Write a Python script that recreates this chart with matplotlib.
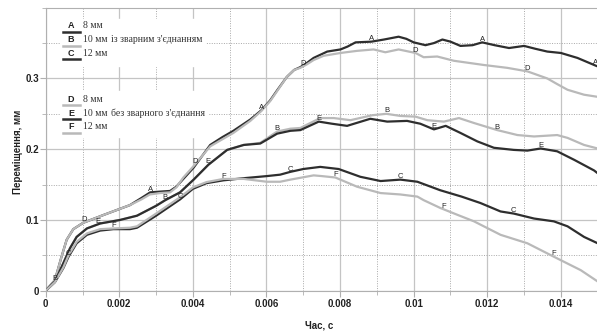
import numpy as np
import matplotlib.pyplot as plt
from matplotlib.lines import Line2D
from matplotlib.patches import Rectangle
from matplotlib.ticker import MultipleLocator

# час у мс, переміщення у мм
t_A = [0, 0.25, 0.43, 0.57, 0.75, 1.02, 1.57, 2.29, 2.6, 2.84, 3.1, 3.38, 3.55, 3.74, 4.02,
       4.47, 4.8, 5.1, 5.56, 5.86, 6.1, 6.3, 6.55, 6.75, 6.92, 7.1, 7.28, 7.65, 8.01, 8.2,
       8.42, 8.85, 9.19, 9.59, 9.8, 10.0, 10.32, 10.55, 10.78, 11.0, 11.27, 11.6, 11.86,
       12.2, 12.59, 13.0, 13.3, 13.63, 14.0, 14.45, 14.95, 15.0]
y_A = [0, 0.015, 0.048, 0.072, 0.087, 0.096, 0.107, 0.121, 0.131, 0.139, 0.140, 0.141,
       0.147, 0.158, 0.174, 0.206, 0.217, 0.226, 0.242, 0.255, 0.269, 0.284, 0.302, 0.312,
       0.316, 0.322, 0.329, 0.338, 0.341, 0.345, 0.351, 0.352, 0.355, 0.359, 0.356, 0.351,
       0.347, 0.350, 0.355, 0.352, 0.346, 0.347, 0.351, 0.347, 0.343, 0.346, 0.342, 0.338,
       0.336, 0.329, 0.318, 0.317]

t_D = [0, 0.25, 0.43, 0.57, 0.75, 1.02, 1.57, 2.29, 2.6, 2.83, 3.1, 3.38, 3.55, 3.74, 4.0,
       4.47, 4.8, 5.1, 5.56, 5.86, 6.1, 6.3, 6.55, 6.75, 6.92, 7.1, 7.28, 7.55, 8.01, 8.46,
       8.91, 9.23, 9.59, 10.05, 10.27, 10.64, 11.09, 11.5, 11.91, 12.54, 13.09, 13.63, 13.9,
       14.18, 14.63, 15.0]
y_D = [0, 0.015, 0.048, 0.072, 0.087, 0.096, 0.107, 0.121, 0.129, 0.136, 0.138, 0.139,
       0.146, 0.160, 0.175, 0.204, 0.214, 0.223, 0.240, 0.254, 0.268, 0.283, 0.302, 0.312,
       0.315, 0.320, 0.326, 0.332, 0.336, 0.339, 0.341, 0.337, 0.341, 0.336, 0.330, 0.331,
       0.325, 0.322, 0.319, 0.315, 0.310, 0.300, 0.292, 0.284, 0.277, 0.274]

t_B = [0, 0.25, 0.48, 0.66, 0.84, 1.12, 1.48, 2.02, 2.48, 3.0, 3.25, 3.65, 4.02, 4.42, 4.93,
       5.38, 5.83, 6.29, 6.65, 6.92, 7.19, 7.46, 7.83, 8.28, 8.87, 9.26, 9.64, 10.05, 10.37,
       10.82, 11.23, 11.64, 12.27, 12.82, 13.27, 13.9, 14.18, 14.63, 15.0]
y_B = [0, 0.013, 0.039, 0.060, 0.076, 0.088, 0.095, 0.100, 0.106, 0.120, 0.128, 0.139,
       0.157, 0.178, 0.199, 0.206, 0.209, 0.225, 0.229, 0.230, 0.237, 0.244, 0.244, 0.241,
       0.248, 0.250, 0.247, 0.246, 0.241, 0.239, 0.244, 0.237, 0.227, 0.220, 0.218, 0.220,
       0.216, 0.206, 0.201]

t_E = [0, 0.25, 0.48, 0.66, 0.84, 1.12, 1.48, 2.02, 2.48, 3.0, 3.25, 3.65, 4.02, 4.42, 4.93,
       5.38, 5.83, 6.29, 6.65, 6.92, 7.42, 7.78, 8.19, 8.82, 9.28, 9.82, 10.18, 10.55, 10.87,
       11.27, 11.73, 12.18, 12.72, 13.09, 13.45, 13.9, 14.36, 14.9, 15.0]
y_E = [0, 0.013, 0.039, 0.060, 0.076, 0.088, 0.095, 0.100, 0.106, 0.120, 0.128, 0.139,
       0.157, 0.178, 0.199, 0.206, 0.208, 0.222, 0.226, 0.227, 0.239, 0.236, 0.233, 0.243,
       0.239, 0.240, 0.236, 0.228, 0.233, 0.223, 0.211, 0.202, 0.199, 0.198, 0.201, 0.197,
       0.185, 0.170, 0.166]

t_C = [0, 0.25, 0.48, 0.62, 0.84, 1.12, 1.48, 1.84, 2.29, 2.48, 3.0, 3.65, 4.0, 4.37, 4.83,
       5.38, 6.01, 6.37, 6.65, 7.0, 7.46, 7.96, 8.55, 9.1, 9.64, 10.1, 10.72, 11.3, 11.81,
       12.36, 12.72, 13.27, 13.81, 14.18, 14.63, 15.0]
y_C = [0, 0.012, 0.032, 0.048, 0.067, 0.079, 0.085, 0.087, 0.087, 0.089, 0.106, 0.129,
       0.144, 0.152, 0.156, 0.159, 0.162, 0.164, 0.168, 0.172, 0.175, 0.172, 0.161, 0.155,
       0.157, 0.154, 0.142, 0.133, 0.124, 0.112, 0.109, 0.102, 0.098, 0.091, 0.076, 0.067]

t_F = [0, 0.25, 0.48, 0.62, 0.84, 1.12, 1.48, 1.84, 2.29, 2.48, 3.0, 3.65, 4.0, 4.37, 4.83,
       5.38, 6.01, 6.37, 6.65, 7.28, 7.5, 7.87, 8.46, 9.1, 9.64, 10.1, 10.27, 10.72, 11.2,
       11.64, 12.36, 13.09, 13.81, 14.54, 15.0]
y_F = [0, 0.012, 0.033, 0.050, 0.069, 0.081, 0.087, 0.088, 0.089, 0.091, 0.109, 0.132,
       0.146, 0.1535, 0.158, 0.158, 0.154, 0.154, 0.157, 0.163, 0.162, 0.160, 0.147, 0.138,
       0.136, 0.133, 0.128, 0.117, 0.107, 0.098, 0.079, 0.067, 0.048, 0.029, 0.013]

# місця літер на кривих, мс
marks = {
    'A': [2.84, 5.86, 8.85, 11.86, 14.95],
    'B': [0.25, 3.25, 6.29, 9.26, 12.27],
    'C': [0.62, 3.65, 6.65, 9.64, 12.72],
    'D': [1.05, 4.05, 7.0, 10.05, 13.09],
    'E': [1.43, 4.42, 7.42, 10.55, 13.45],
    'F': [1.84, 4.83, 7.87, 10.82, 13.81],
}

dark = '#2e2e2e'
light = '#b9b9b9'
series = [('A', t_A, y_A, dark), ('D', t_D, y_D, light),
          ('B', t_B, y_B, light), ('E', t_E, y_E, dark),
          ('C', t_C, y_C, dark), ('F', t_F, y_F, light)]

sans = ['Liberation Sans', 'DejaVu Sans']
serif = ['Liberation Serif', 'DejaVu Serif']

fig = plt.figure(figsize=(5.97, 3.36), dpi=100)
ax = fig.add_axes([45.7 / 597, 1 - 290.7 / 336, 552 / 597, 283 / 336])

for name, t, y, c in series:
    t = np.array(t) / 1000
    ax.plot(t, y, color=c, lw=1.6, zorder=3, solid_joinstyle='round',
            solid_capstyle='round')
    for m in marks[name]:
        ym = np.interp(m / 1000, t, y)
        ax.text(m / 1000, ym + 0.004, name, fontsize=5.5, color='#222222',
                ha='center', va='center', zorder=4, family=sans)

ax.set_xlim(0, 0.015)
ax.set_ylim(0, 0.4)
ax.xaxis.set_minor_locator(MultipleLocator(0.001))
ax.yaxis.set_minor_locator(MultipleLocator(0.05))
ax.set_xticks([0, 0.002, 0.004, 0.006, 0.008, 0.01, 0.012, 0.014])
ax.set_xticklabels(['0', '0.002', '0.004', '0.006', '0.008', '0.01', '0.012', '0.014'])
ax.set_yticks([0, 0.1, 0.2, 0.3])
ax.set_yticklabels(['0', '0.1', '0.2', '0.3'])
ax.grid(which='major', color='#c4c4c4', lw=0.9, ls='-', zorder=0)
ax.grid(which='minor', color='#a8a8a8', lw=0.7, ls=(0, (1, 1.5)), zorder=0)
ax.tick_params(which='major', length=4, color='#b0b0b0', labelsize=7)
ax.tick_params(axis='x', which='major', pad=2)
ax.tick_params(axis='y', which='major', pad=1)
ax.tick_params(which='minor', length=3, color='#b0b0b0')
for lab in ax.get_xticklabels() + ax.get_yticklabels():
    lab.set_family(sans)
    lab.set_weight('bold')
    lab.set_color('#222222')
for s in ['left', 'bottom', 'top']:
    ax.spines[s].set_color('#b0b0b0')
ax.spines['right'].set_visible(False)

fig.text(319 / 597, 1 - 325.5 / 336, 'Час, с', fontsize=7, family=sans,
         weight='bold', ha='center', va='center', color='#222222')
fig.text(18 / 597, 1 - 152 / 336, 'Переміщення, мм', fontsize=7, family=sans,
         weight='bold', ha='center', va='center', rotation=90, color='#222222')


# легенда
def fx(px):
    return px / 597


def fy(py):
    return 1 - py / 336


fig.add_artist(Rectangle((fx(61), fy(66)), fx(205) - fx(61), fy(19) - fy(66),
                         transform=fig.transFigure, color='white', zorder=5))
fig.add_artist(Rectangle((fx(61), fy(137)), fx(207) - fx(61), fy(91) - fy(137),
                         transform=fig.transFigure, color='white', zorder=5))

rows = [('A', dark, '8 мм', 26), ('B', light, '10 мм', 39.5), ('C', dark, '12 мм', 53),
        ('D', light, '8 мм', 99), ('E', dark, '10 мм', 113), ('F', light, '12 мм', 126.5)]
for letter, c, txt, py in rows:
    fig.add_artist(Line2D([fx(63), fx(80)], [fy(py + 6), fy(py + 6)], color=c, lw=1.8,
                          transform=fig.transFigure, zorder=6))
    fig.text(fx(71), fy(py), letter, fontsize=6.5, family=sans,
             weight='bold', ha='center', va='center', color='#222222', zorder=7)
    fig.text(fx(83), fy(py), txt, fontsize=7, family=serif,
             ha='left', va='center', color='#333333', zorder=7)

fig.text(fx(111), fy(39.5), 'із зварним з\'єднанням', fontsize=7,
         family=serif, ha='left', va='center', color='#333333', zorder=7)
fig.text(fx(111), fy(113), 'без зварного з\'єднання', fontsize=7,
         family=serif, ha='left', va='center', color='#333333', zorder=7)

fig.savefig('out.png', dpi=100)
